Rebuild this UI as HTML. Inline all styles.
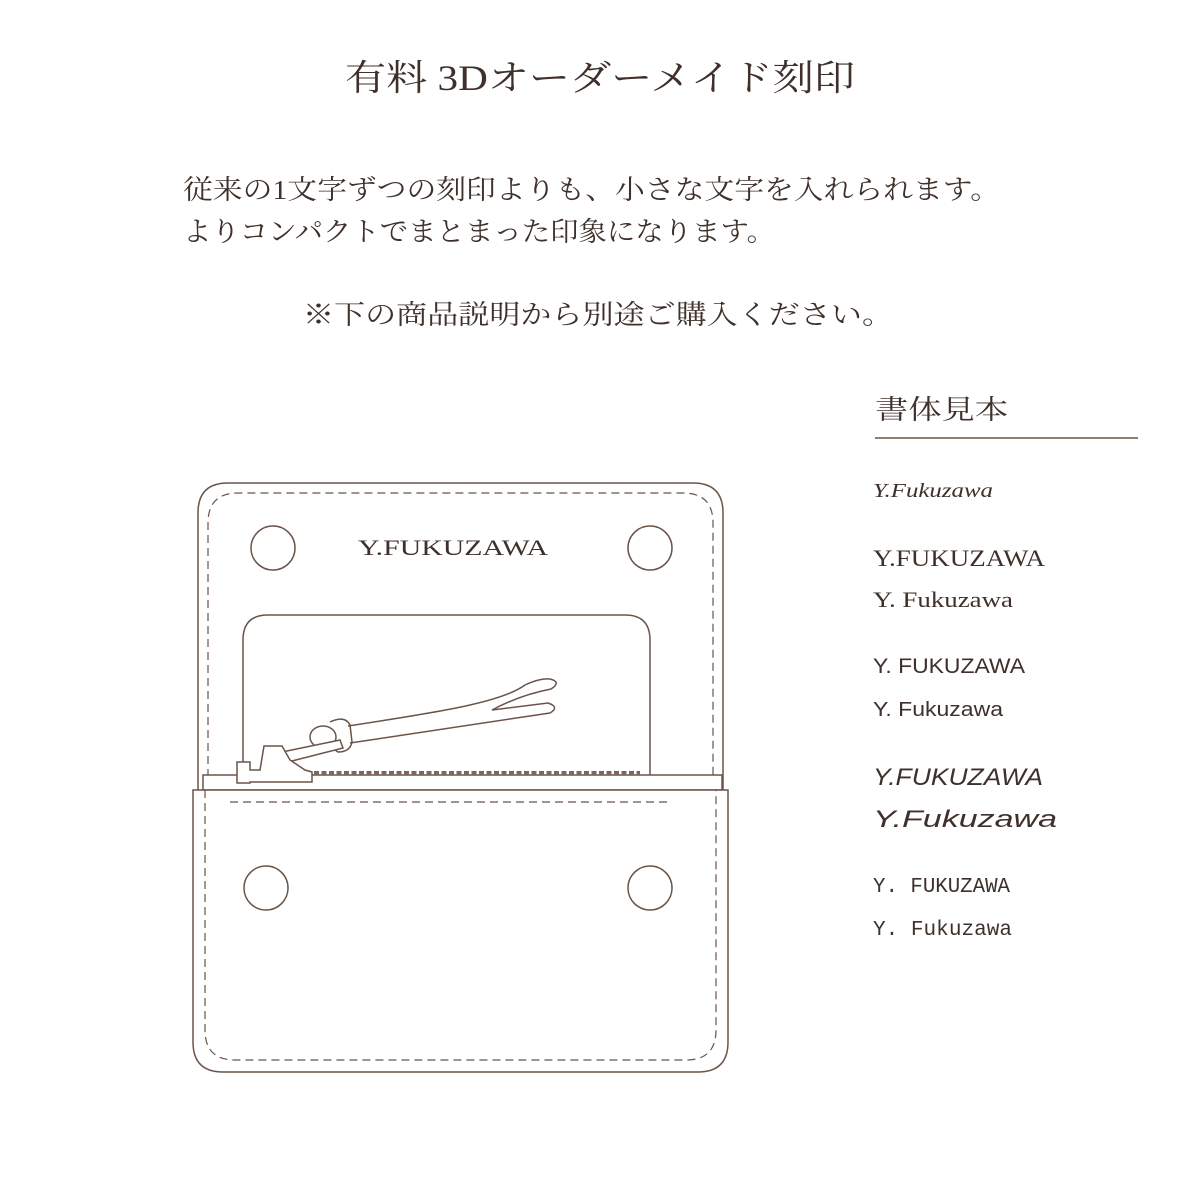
<!DOCTYPE html>
<html><head><meta charset="utf-8"><style>
html,body{margin:0;padding:0;background:#fff}
svg{display:block}
text{fill:#3f302a}
.s{font-family:"Liberation Serif","Noto Serif CJK JP",serif}
.a{font-family:"Liberation Sans","DejaVu Sans",sans-serif}
.m{font-family:"Liberation Mono",monospace}
</style></head><body>
<svg width="1200" height="1200" viewBox="0 0 1200 1200" xmlns="http://www.w3.org/2000/svg">
<text class="s" x="345" y="90" font-size="36" textLength="510" lengthAdjust="spacingAndGlyphs">有料 3Dオーダーメイド刻印</text>
<text class="s" x="183" y="199" font-size="27" textLength="817" lengthAdjust="spacingAndGlyphs">従来の1文字ずつの刻印よりも、小さな文字を入れられます。</text>
<text class="s" x="183" y="241" font-size="27" textLength="592" lengthAdjust="spacingAndGlyphs">よりコンパクトでまとまった印象になります。</text>
<text class="s" x="303" y="324" font-size="27" textLength="590" lengthAdjust="spacingAndGlyphs">※下の商品説明から別途ご購入ください。</text>
<text class="s" x="875" y="419" font-size="27" textLength="133" lengthAdjust="spacingAndGlyphs">書体見本</text>
<line x1="875" y1="438" x2="1138" y2="438" stroke="#6b5448" stroke-width="1.5"/>
<text class="s" x="873" y="497" font-size="20" font-style="italic" textLength="120" lengthAdjust="spacingAndGlyphs">Y.Fukuzawa</text>
<text class="s" x="873" y="566" font-size="23" textLength="172" lengthAdjust="spacingAndGlyphs">Y.FUKUZAWA</text>
<text class="s" x="873" y="607" font-size="22" textLength="140" lengthAdjust="spacingAndGlyphs">Y. Fukuzawa</text>
<text class="a" x="873" y="673" font-size="21" textLength="152" lengthAdjust="spacingAndGlyphs">Y. FUKUZAWA</text>
<text class="a" x="873" y="716" font-size="20" textLength="130" lengthAdjust="spacingAndGlyphs">Y. Fukuzawa</text>
<text class="a" x="873" y="785" font-size="24" font-style="italic" textLength="170" lengthAdjust="spacingAndGlyphs">Y.FUKUZAWA</text>
<text class="a" x="873" y="827" font-size="24" font-style="italic" textLength="184" lengthAdjust="spacingAndGlyphs">Y.Fukuzawa</text>
<text class="m" x="873" y="892" font-size="21" textLength="137" lengthAdjust="spacingAndGlyphs">Y. FUKUZAWA</text>
<text class="m" x="873" y="935" font-size="21" textLength="139" lengthAdjust="spacingAndGlyphs">Y. Fukuzawa</text>

<g fill="none" stroke="#6b5448" stroke-width="1.5">
<path d="M198 790 V513 Q198 483 228 483 H693 Q723 483 723 513 V790"/>
<path d="M208 790 V523 Q208 493 238 493 H683 Q713 493 713 523 V790" stroke-dasharray="8 5" stroke-width="1.2"/>
<circle cx="273" cy="548" r="22"/><circle cx="650" cy="548" r="22"/>
<path d="M243 775 V640 Q243 615 268 615 H625 Q650 615 650 640 V775"/>
<rect x="203" y="775" width="519" height="15" fill="#fff"/>
<path d="M193 790 H728 V1042 Q728 1072 698 1072 H223 Q193 1072 193 1042 Z" fill="#fff"/>
<path d="M205 790 V1030 Q205 1060 235 1060 H686 Q716 1060 716 1030 V790" stroke-dasharray="8 5" stroke-width="1.2"/>
<line x1="230" y1="802" x2="668" y2="802" stroke-dasharray="8 5" stroke-width="1.2"/>
<circle cx="266" cy="888" r="22"/><circle cx="650" cy="888" r="22"/>
<path d="M348 726 Q440 712 470 705 Q510 696 525 685 Q540 678 550 679 Q562 682 551 689 Q520 695 492 710 L548 703 Q560 707 550 713 L350 743"/>
<ellipse cx="323" cy="737" rx="13" ry="11"/>
<path d="M330 722 Q345 715 350 725 L352 742 Q350 752 338 752 L332 748"/>
<path d="M282 752 L340 740 L343 748 L288 762 Z" fill="#fff"/>
<path d="M237 762 H250 V770 H260 L264 746 H282 L290 760 L305 770 L312 772 V782 H250 V783 H237 Z" fill="#fff"/>
</g>
<line x1="314" y1="773" x2="640" y2="773" stroke="#7a695e" stroke-width="4" stroke-dasharray="5 2.5"/>
<text class="s" x="453" y="555" font-size="22" text-anchor="middle" textLength="190" lengthAdjust="spacingAndGlyphs">Y.FUKUZAWA</text>
</svg>
</body></html>
